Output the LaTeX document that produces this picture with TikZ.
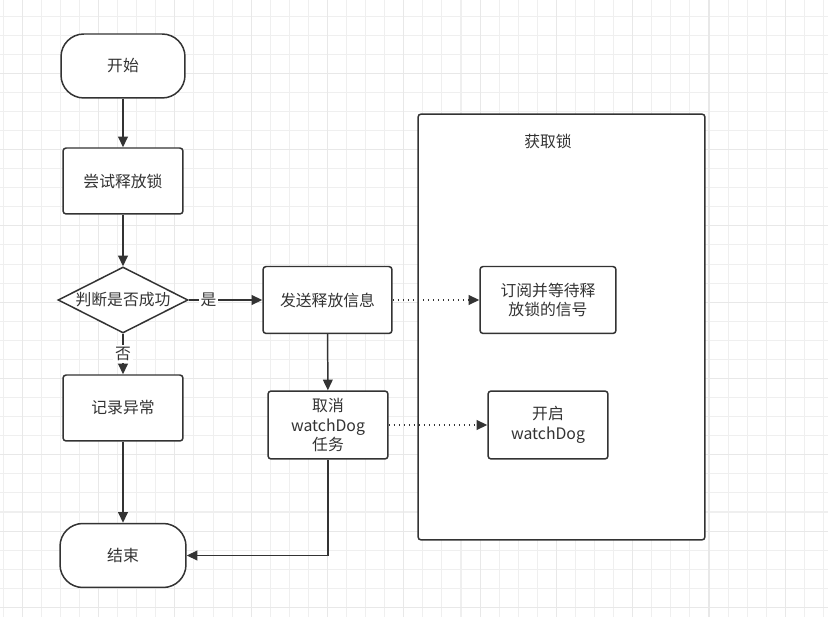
\documentclass[tikz,border=0pt]{standalone}
\usepackage{fontspec}
\setmainfont{Noto Sans CJK SC}
\usetikzlibrary{arrows.meta}
\usetikzlibrary{shapes.geometric}
\usepackage{xcolor}
\definecolor{ink}{HTML}{333333}
\definecolor{gridmin}{HTML}{EFEFEF}
\definecolor{gridmaj}{HTML}{E8E8E8}

\begin{document}
\begin{tikzpicture}[x=0.02cm, y=-0.02cm,
  every node/.style={font=\fontsize{9}{11.3}\selectfont, text=ink},
  flow/.style={draw=ink, line width=0.85pt, fill=white, rounded corners=1.8pt, minimum width=2.4cm, minimum height=1.32cm, align=center, inner sep=1pt},
  term/.style={draw=ink, line width=0.85pt, fill=white, rounded corners=13pt, minimum width=2.48cm, minimum height=1.28cm},
  test/.style={draw=ink, line width=0.85pt, fill=white, diamond, aspect=2, inner sep=0pt, minimum width=2.6cm, minimum height=1.32cm},
  link/.style={draw=ink, line width=0.85pt, -{Triangle[length=6pt,width=5.5pt]}},
  hint/.style={link, dotted}]
\useasboundingbox[fill=white] (0,0) rectangle (828,617);
% background grid
\foreach \i in {0,...,43} \draw[gridmin, line width=0.6pt] ({3.2+19.075*\i},0) -- ({3.2+19.075*\i},617);
\foreach \i in {0,...,33} \draw[gridmin, line width=0.6pt] (0,{-3+19.075*\i}) -- (828,{-3+19.075*\i});
\foreach \i in {0,...,10} \draw[gridmaj, line width=0.6pt] ({22.3+76.3*\i},0) -- ({22.3+76.3*\i},617);
\foreach \i in {0,...,8} \draw[gridmaj, line width=0.6pt] (0,{-3+76.3*\i}) -- (828,{-3+76.3*\i});

% main flow
\node[term] (start) at (123,66) {开始};
\node[flow] (try) at (123,181) {尝试释放锁};
\node[test] (ok) at (123,300) {判断是否成功};
\node[flow] (log) at (123,408) {记录异常};
\node[term, minimum width=2.52cm] (stop) at (123,555.5) {结束};
\node[flow, minimum width=2.58cm, minimum height=1.34cm] (send) at (327.5,300) {发送释放信息};
\node[flow, minimum height=1.36cm] (cancel) at (328,425) {取消\\watchDog\\任务};

% lock side
\node[draw=ink, fill=white, line width=0.85pt, rounded corners=1.8pt, minimum width=5.74cm, minimum height=8.52cm] (lock) at (561.5,327) {};
\node (locklabel) at (548,141) {获取锁};
\node[flow, minimum width=2.72cm, minimum height=1.34cm] (wait) at (548,300) {订阅并等待释\\放锁的信号};
\node[flow, minimum height=1.36cm] (watch) at (548,425) {开启\\watchDog};

\draw[link] (start) -- (try);
\draw[link] (try) -- (ok);
\draw[link] (ok) -- node[pos=0.27, fill=white, inner sep=1pt] {是} (send);
\draw[link] (ok) -- node[fill=white, inner sep=1pt] {否} (log);
\draw[link] (log) -- (stop);
\draw[link] (send) -- (cancel);
\draw[link] (cancel) |- (stop);
\draw[hint] (send) -- (wait);
\draw[hint] (cancel) -- (watch);
\end{tikzpicture}
\end{document}
